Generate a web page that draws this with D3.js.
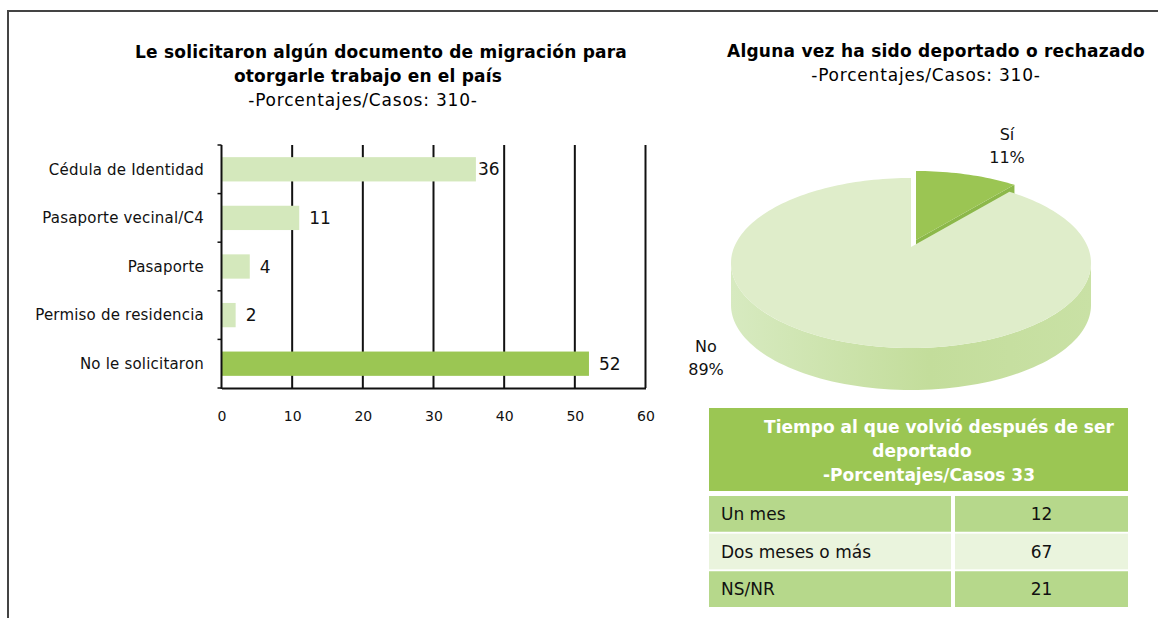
<!DOCTYPE html>
<html>
<head>
<meta charset="utf-8">
<script src="https://cdn.jsdelivr.net/npm/d3@7"></script>
<style>
  body { margin: 0; background: #fff; }
  svg { display: block; font-family: "DejaVu Sans", Verdana, sans-serif; }
</style>
</head>
<body>
<div id="vis"></div>
<script>
// bar chart data
const docCategories = ["Cédula de Identidad", "Pasaporte vecinal/C4", "Pasaporte", "Permiso de residencia", "No le solicitaron"];
const docValues = [36, 11, 4, 2, 52];
const xTicks = [0, 10, 20, 30, 40, 50, 60];

// pie data
const pieLabels = ["Sí", "No"];
const pieValues = [11, 89];

// table data
const tableTitle = ["Tiempo al que volvió después de ser", "deportado", "-Porcentajes/Casos 33"];
const tableRows = ["Un mes", "Dos meses o más", "NS/NR"];
const tableValues = [12, 67, 21];

const W = 1158, H = 618;
var svg = d3.select("#vis").append("svg").attr("width", W).attr("height", H);

// frame
svg.append("path")
  .attr("d", `M8,${H} L8,11 L${W},11`)
  .attr("fill", "none")
  .attr("stroke", "#444")
  .attr("stroke-width", 2);

// ---- bar chart ----
const lightGreen = "#d4e8bc";
const darkGreen = "#9bc653";

const titleL = svg.append("g");
titleL.append("text").attr("x", 381).attr("y", 58).attr("text-anchor", "middle")
  .attr("font-size", 17).attr("font-weight", "bold").attr("letter-spacing", 0.2)
  .text("Le solicitaron algún documento de migración para");
titleL.append("text").attr("x", 368).attr("y", 82).attr("text-anchor", "middle")
  .attr("font-size", 17).attr("font-weight", "bold").attr("letter-spacing", 0.2)
  .text("otorgarle trabajo en el país");
titleL.append("text").attr("x", 363).attr("y", 106).attr("text-anchor", "middle")
  .attr("font-size", 17).attr("letter-spacing", 0.8)
  .text("-Porcentajes/Casos: 310-");

var x = d3.scaleLinear().domain([0, 60]).range([221.5, 645.5]);
var y = d3.scaleBand().domain(docCategories).range([145, 388])
  .paddingInner(0.5).paddingOuter(0.25);

// grid lines
svg.append("g")
  .selectAll("line")
  .data(xTicks.slice(1))
  .join("line")
  .attr("x1", (d) => x(d)).attr("x2", (d) => x(d))
  .attr("y1", 145).attr("y2", 388)
  .attr("stroke", "#111").attr("stroke-width", 2);

// bars
svg.append("g")
  .selectAll("rect")
  .data(docCategories)
  .join("rect")
  .attr("x", x(0))
  .attr("y", (d) => y(d))
  .attr("width", (d, i) => x(docValues[i]) - x(0))
  .attr("height", y.bandwidth())
  .attr("fill", (d, i) => (i === docCategories.length - 1 ? darkGreen : lightGreen));

// value labels
svg.append("g")
  .selectAll("text")
  .data(docCategories)
  .join("text")
  .attr("x", (d, i) => x(docValues[i]) + (i === 0 ? 2 : 10))
  .attr("y", (d) => y(d) + y.bandwidth() / 2)
  .attr("dy", "0.36em")
  .attr("font-size", 17)
  .attr("fill", "#111")
  .text((d, i) => docValues[i]);

// left axis line + ticks at band boundaries
const yAxisG = svg.append("g");
yAxisG.append("line")
  .attr("x1", x(0)).attr("x2", x(0)).attr("y1", 145).attr("y2", 389)
  .attr("stroke", "#111").attr("stroke-width", 2);
yAxisG.selectAll(".yt")
  .data(d3.range(docCategories.length + 1))
  .join("line")
  .attr("class", "yt")
  .attr("x1", x(0) - 4).attr("x2", x(0))
  .attr("y1", (i) => 145 + i * y.step()).attr("y2", (i) => 145 + i * y.step())
  .attr("stroke", "#111").attr("stroke-width", 1.5);
yAxisG.selectAll("text")
  .data(docCategories)
  .join("text")
  .attr("x", 204)
  .attr("y", (d) => y(d) + y.bandwidth() / 2)
  .attr("dy", "0.35em")
  .attr("text-anchor", "end")
  .attr("font-size", 15)
  .attr("letter-spacing", 0.2)
  .attr("fill", "#111")
  .text((d) => d);

// bottom axis
const xAxis = d3.axisBottom(x).tickValues(xTicks).tickSize(0).tickPadding(23);
const xAxisG = svg.append("g").attr("transform", "translate(0,388)").call(xAxis);
xAxisG.select(".domain").attr("stroke", "#111").attr("stroke-width", 2);
xAxisG.selectAll("text")
  .attr("font-family", "DejaVu Sans")
  .attr("font-size", 14)
  .attr("fill", "#111");

// ---- pie chart ----
const titleR = svg.append("g");
titleR.append("text").attr("x", 936).attr("y", 57).attr("text-anchor", "middle")
  .attr("font-size", 17).attr("font-weight", "bold").attr("letter-spacing", 0.25)
  .text("Alguna vez ha sido deportado o rechazado");
titleR.append("text").attr("x", 926).attr("y", 81).attr("text-anchor", "middle")
  .attr("font-size", 17).attr("letter-spacing", 0.8)
  .text("-Porcentajes/Casos: 310-");

// perspective projection of a flat disc
const pcx = 911, pcy = 247, k = 0.188, A = 176.8, B = 82, depth = 42;
function proj(a, r) {
  r = r === undefined ? 1 : r;
  const u = Math.sin(a) * r, v = -Math.cos(a) * r;
  const w = 1 - k * v;
  return [pcx + (A * u) / w, pcy + (B * v) / w];
}
function arcPoints(a0, a1) {
  const n = Math.max(2, Math.ceil(((a1 - a0) / (2 * Math.PI)) * 200));
  return d3.range(n + 1).map((i) => proj(a0 + ((a1 - a0) * i) / n));
}

const pie = d3.pie().sort(null).value((d) => d);
const arcs = pie(pieValues);
const pieColors = ["#9bc553", "#dfedca"];

const defs = svg.append("defs");
const grad = defs.append("linearGradient").attr("id", "side-grad")
  .attr("x1", "0%").attr("x2", "100%").attr("y1", "0%").attr("y2", "0%");
grad.append("stop").attr("offset", "0%").attr("stop-color", "#d7eac0");
grad.append("stop").attr("offset", "55%").attr("stop-color", "#c3dd9b");
grad.append("stop").attr("offset", "100%").attr("stop-color", "#c9e1a5");

const line = d3.line();
const pieG = svg.append("g");

// exploded "Sí" slice
const si = arcs[0];
const exp = [5, -7];
const siG = pieG.append("g").attr("transform", `translate(${exp[0]},${exp[1]})`);
const siEnd = proj(si.endAngle);
siG.append("path")
  .attr("d", line([[pcx, pcy], siEnd, [siEnd[0], siEnd[1] + depth], [pcx, pcy + depth]]) + "Z")
  .attr("fill", "#8cb84a");
siG.append("path")
  .attr("d", line([[pcx, pcy]].concat(arcPoints(si.startAngle, si.endAngle))) + "Z")
  .attr("fill", pieColors[0]);

// main slice: front side wall
const no = arcs[1];
const aR = Math.acos(-k), aL = 2 * Math.PI - Math.acos(-k);
const front = arcPoints(aR, aL);
const frontLow = front.map((p) => [p[0], p[1] + depth]).reverse();
pieG.append("path")
  .attr("d", line(front.concat(frontLow)) + "Z")
  .attr("fill", "url(#side-grad)");
pieG.append("path")
  .attr("d", line([[pcx, pcy]].concat(arcPoints(no.startAngle, no.endAngle))) + "Z")
  .attr("fill", pieColors[1]);

// pie labels
const pieLabelPos = [[1007, 140], [706, 352]];
pieLabels.forEach((lab, i) => {
  const t = svg.append("text")
    .attr("x", pieLabelPos[i][0]).attr("y", pieLabelPos[i][1])
    .attr("text-anchor", "middle").attr("font-size", 16).attr("fill", "#111");
  t.append("tspan").attr("x", pieLabelPos[i][0]).text(lab);
  t.append("tspan").attr("x", pieLabelPos[i][0]).attr("dy", 23).text(pieValues[i] + "%");
});

// ---- table ----
const tx0 = 709, tx1 = 1128, colSplit = 951, colGap = 4;
svg.append("rect")
  .attr("x", tx0).attr("y", 408).attr("width", tx1 - tx0).attr("height", 83)
  .attr("fill", "#9bc653");
const headX = [939, 922, 929];
svg.append("g")
  .selectAll("text")
  .data(tableTitle)
  .join("text")
  .attr("x", (d, i) => headX[i])
  .attr("y", (d, i) => 433 + i * 24)
  .attr("text-anchor", "middle")
  .attr("font-size", 17)
  .attr("font-weight", "bold")
  .attr("fill", "#fff")
  .text((d) => d);

var ry = d3.scaleBand().domain(tableRows).range([496, 607]).paddingInner(0.05);
const rowColors = ["#b6d88b", "#eaf4dd", "#b6d88b"];
const rows = svg.append("g")
  .selectAll("g")
  .data(tableRows)
  .join("g")
  .attr("transform", (d) => `translate(0,${ry(d)})`);
rows.append("rect")
  .attr("x", tx0).attr("width", colSplit - tx0).attr("height", ry.bandwidth())
  .attr("fill", (d, i) => rowColors[i]);
rows.append("rect")
  .attr("x", colSplit + colGap).attr("width", tx1 - colSplit - colGap).attr("height", ry.bandwidth())
  .attr("fill", (d, i) => rowColors[i]);
rows.append("text")
  .attr("x", 721).attr("y", ry.bandwidth() / 2).attr("dy", "0.36em")
  .attr("font-size", 17).attr("fill", "#111")
  .text((d) => d);
rows.append("text")
  .attr("x", (colSplit + colGap + tx1) / 2).attr("y", ry.bandwidth() / 2).attr("dy", "0.36em")
  .attr("text-anchor", "middle")
  .attr("font-size", 17).attr("fill", "#111")
  .text((d, i) => tableValues[i]);
</script>
</body>
</html>
